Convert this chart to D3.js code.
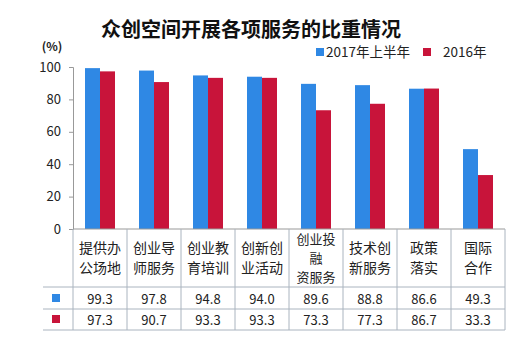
<!DOCTYPE html>
<html><head><meta charset="utf-8">
<script src="https://cdn.jsdelivr.net/npm/d3@7"></script>
<style>body{margin:0;background:#fff;} text{font-family:"Noto Sans CJK SC","Open Sans",sans-serif;}</style>
</head><body>
<svg id="c" width="530" height="337"></svg>
<script>
const categories = [["提供办","公场地"],["创业导","师服务"],["创业教","育培训"],["创新创","业活动"],["创业投","融","资服务"],["技术创","新服务"],["政策","落实"],["国际","合作"]];
const seriesNames = ["2017年上半年","2016年"];
const s2017 = [99.3,97.8,94.8,94.0,89.6,88.8,86.6,49.3];
const s2016 = [97.3,90.7,93.3,93.3,73.3,77.3,86.7,33.3];
const yTicks = [0,20,40,60,80,100];
const colors = ["#2f88e4","#c8143a"];

const svg = d3.select("#c");
const x0 = 73, x1 = 505, yTop = 67, yBot = 229;
const x = d3.scaleBand().domain(d3.range(categories.length)).range([x0,x1]).padding(0);
const y = d3.scaleLinear().domain([0,100]).range([yBot,yTop]);
const xs = d3.scaleBand().domain([0,1]).range([0,30]);

svg.append("text").attr("x",251).attr("y",37).attr("text-anchor","middle")
  .attr("font-size",20).attr("font-weight","bold").attr("fill","#111").text("众创空间开展各项服务的比重情况");
svg.append("text").attr("x",52).attr("y",51).attr("text-anchor","middle")
  .attr("font-size",12).attr("font-weight","bold").attr("fill","#222").text("(%)");

// legend
const lg = svg.append("g");
lg.append("rect").attr("x",316).attr("y",48).attr("width",8).attr("height",8).attr("fill",colors[0]);
lg.append("text").attr("x",326).attr("y",57).attr("font-size",13.5).attr("fill","#222").text(seriesNames[0]);
lg.append("rect").attr("x",423).attr("y",48).attr("width",8).attr("height",8).attr("fill",colors[1]);
lg.append("text").attr("x",443).attr("y",57).attr("font-size",13.5).attr("fill","#222").text(seriesNames[1]);

// y axis
const ya = svg.append("g").attr("transform",`translate(${x0},0)`)
  .call(d3.axisLeft(y).tickValues(yTicks).tickSize(4).tickPadding(8).tickFormat(d3.format("d")));
ya.select(".domain").attr("stroke","#999");
ya.selectAll(".tick line").attr("stroke","#999");
ya.selectAll(".tick text").attr("font-size",13).attr("fill","#222").attr("font-family","'Open Sans',sans-serif");

// bars
const data = [s2017,s2016];
categories.forEach((c,i)=>{
  data.forEach((s,k)=>{
    svg.append("rect")
      .attr("x",x(i)+x.bandwidth()/2-15+xs(k)).attr("y",y(s[i]))
      .attr("width",xs.bandwidth()).attr("height",yBot-y(s[i])).attr("fill",colors[k]);
  });
});

// table
const grid = svg.append("g").attr("stroke","#aab4bf").attr("stroke-width",1);
grid.append("line").attr("x1",x0).attr("x2",x1).attr("y1",229).attr("y2",229).attr("stroke","#999");
[287,309,330].forEach(yy=>grid.append("line").attr("x1",43).attr("x2",x1).attr("y1",yy).attr("y2",yy));
d3.range(categories.length+1).forEach(i=>{
  const xx = i<categories.length ? x(i) : x1;
  grid.append("line").attr("x1",xx).attr("x2",xx).attr("y1",229).attr("y2",330);
});
// legend keys in table
[0,1].forEach(k=>{
  svg.append("rect").attr("x",52).attr("y",(k===0?294:315)).attr("width",8).attr("height",8).attr("fill",colors[k]);
});
categories.forEach((c,i)=>{
  const cx = x(i)+x.bandwidth()/2;
  const three = c.length===3;
  const lh = three?19:20;
  const start = three?244:253;
  c.forEach((t,j)=>{
    svg.append("text").attr("x",cx).attr("y",start+j*lh).attr("text-anchor","middle")
      .attr("font-size",three?13:14).attr("fill","#222").text(t);
  });
  data.forEach((s,k)=>{
    svg.append("text").attr("x",cx).attr("y",(k===0?303.5:324.5)).attr("text-anchor","middle")
      .attr("font-size",13).attr("fill","#222").attr("font-family","'Open Sans',sans-serif").text(s[i].toFixed(1));
  });
});
</script>
</body></html>
